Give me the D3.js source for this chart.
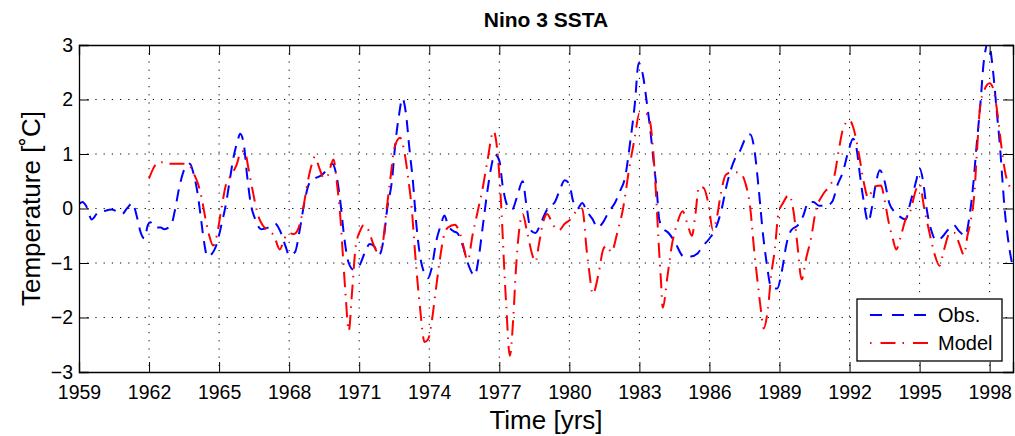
<!DOCTYPE html>
<html>
<head>
<meta charset="utf-8">
<script src="https://cdn.jsdelivr.net/npm/d3@7"></script>
<style>
  body { margin: 0; background: #ffffff; }
  text { font-family: "Liberation Sans", Arial, Helvetica, sans-serif; fill: #000; }
</style>
</head>
<body>
<div id="chart"></div>
<script>
// ----------------------------------------------------------------------------------------------------
// DATA - NINO 3 SSTA
// ----------------------------------------------------------------------------------------------------

var obsYears = [
    1959.0, 1959.15, 1959.3, 1959.55, 1959.8, 1960.05, 1960.4, 1960.6, 1960.85, 1961.05,
    1961.3, 1961.45, 1961.65, 1961.8, 1961.95, 1962.05, 1962.25, 1962.5, 1962.65, 1962.95,
    1963.1, 1963.3, 1963.55, 1963.75, 1963.9, 1964.05, 1964.2, 1964.35, 1964.5, 1964.65,
    1964.9, 1965.1, 1965.3, 1965.45, 1965.6, 1965.8, 1965.9, 1966.05, 1966.2, 1966.35,
    1966.55, 1966.8, 1967.1, 1967.4, 1967.6, 1967.85, 1968.0, 1968.25, 1968.45, 1968.65,
    1968.85, 1969.1, 1969.35, 1969.6, 1969.85, 1970.05, 1970.2, 1970.35, 1970.55, 1970.75,
    1971.0, 1971.25, 1971.45, 1971.65, 1971.85, 1972.05, 1972.2, 1972.4, 1972.55, 1972.7,
    1972.85, 1973.0, 1973.15, 1973.3, 1973.45, 1973.6, 1973.8, 1973.95, 1974.1, 1974.3,
    1974.5, 1974.65, 1974.8, 1975.05, 1975.2, 1975.45, 1975.65, 1975.95, 1976.1, 1976.3,
    1976.5, 1976.65, 1976.8, 1977.0, 1977.15, 1977.35, 1977.55, 1977.75, 1978.0, 1978.15,
    1978.35, 1978.55, 1978.75, 1978.95, 1979.15, 1979.35, 1979.6, 1979.8, 1980.0, 1980.15,
    1980.35, 1980.55, 1980.75, 1981.0, 1981.2, 1981.45, 1981.7, 1981.95, 1982.15, 1982.4,
    1982.6, 1982.8, 1982.97, 1983.15, 1983.3, 1983.45, 1983.6, 1983.75, 1983.85, 1984.0,
    1984.25, 1984.5, 1984.9, 1985.2, 1985.5, 1985.7, 1986.0, 1986.25, 1986.5, 1986.75,
    1987.1, 1987.3, 1987.6, 1987.75, 1987.95, 1988.1, 1988.3, 1988.45, 1988.65, 1988.9,
    1989.1, 1989.3, 1989.5, 1989.8, 1990.0, 1990.25, 1990.45, 1990.7, 1991.0, 1991.25,
    1991.5, 1991.7, 1991.95, 1992.15, 1992.3, 1992.45, 1992.6, 1992.8, 1992.95, 1993.1,
    1993.3, 1993.5, 1993.7, 1993.9, 1994.15, 1994.4, 1994.6, 1994.85, 1995.0, 1995.15,
    1995.3, 1995.5, 1995.7, 1995.9, 1996.2, 1996.45, 1996.7, 1996.95, 1997.15, 1997.3,
    1997.45, 1997.6, 1997.75, 1997.95, 1998.15, 1998.3, 1998.45, 1998.55, 1998.65, 1998.8,
    1999.0
];
var obsValues = [
    0.08, 0.12, 0.05, -0.2, -0.08, -0.05, -0.02, -0.05, -0.1, 0.0,
    0.1, -0.1, -0.45, -0.55, -0.3, -0.25, -0.35, -0.35, -0.38, -0.3,
    -0.05, 0.4, 0.75, 0.82, 0.65, 0.35, -0.1, -0.6, -0.88, -0.85,
    -0.65, -0.3, 0.1, 0.5, 0.9, 1.25, 1.37, 1.2, 0.6, 0.1,
    -0.2, -0.38, -0.35, -0.28, -0.4, -0.7, -0.86, -0.8, -0.4, 0.1,
    0.45, 0.55, 0.6, 0.7, 0.82, 0.55, 0.1, -0.5, -1.0, -1.12,
    -1.05, -0.8, -0.65, -0.7, -0.85, -0.55, 0.0, 0.5, 1.2, 1.7,
    2.02, 1.75, 1.1, 0.5, -0.3, -0.85, -1.2, -1.28, -1.1, -0.6,
    -0.3, -0.13, -0.3, -0.42, -0.45, -0.7, -1.0, -1.23, -0.95, -0.3,
    0.35, 0.75, 1.0, 0.88, 0.4, 0.05, -0.02, 0.2, 0.5, 0.1,
    -0.4, -0.45, -0.3, -0.1, 0.05, 0.1, 0.35, 0.52, 0.45, 0.15,
    0.0, 0.1, -0.05, -0.2, -0.35, -0.25, -0.05, 0.1, 0.3, 0.6,
    1.2, 1.9, 2.67, 2.45, 2.0, 1.5, 0.9, 0.3, -0.2, -0.35,
    -0.45, -0.6, -0.88, -0.88, -0.82, -0.7, -0.55, -0.38, -0.05, 0.45,
    0.92, 1.05, 1.33, 1.36, 1.0, 0.4, -0.5, -1.0, -1.45, -1.47,
    -1.15, -0.65, -0.4, -0.3, -0.15, 0.12, 0.12, 0.05, 0.05, 0.12,
    0.45, 0.65, 1.05, 1.28, 1.1, 0.6, 0.15, -0.25, 0.0, 0.4,
    0.7, 0.5, 0.1, -0.05, -0.15, -0.2, 0.1, 0.5, 0.74, 0.5,
    0.0, -0.4, -0.58, -0.55, -0.4, -0.3, -0.42, -0.5, -0.1, 0.45,
    1.2, 1.9, 2.7, 3.05, 2.5, 1.8, 1.1, 0.5, -0.05, -0.6,
    -1.1
];

var modelYears = [
    1962.0, 1962.2, 1962.4, 1962.6, 1962.9, 1963.2, 1963.5, 1963.7, 1963.9, 1964.1,
    1964.25, 1964.4, 1964.55, 1964.75, 1964.9, 1965.1, 1965.3, 1965.5, 1965.75, 1965.95,
    1966.1, 1966.25, 1966.45, 1966.65, 1966.85, 1967.1, 1967.35, 1967.6, 1967.8, 1968.0,
    1968.2, 1968.45, 1968.6, 1968.8, 1969.0, 1969.1, 1969.3, 1969.5, 1969.65, 1969.9,
    1970.05, 1970.2, 1970.3, 1970.42, 1970.55, 1970.7, 1970.85, 1971.05, 1971.2, 1971.4,
    1971.6, 1971.8, 1972.0, 1972.15, 1972.35, 1972.5, 1972.75, 1972.95, 1973.1, 1973.25,
    1973.4, 1973.6, 1973.8, 1973.95, 1974.1, 1974.25, 1974.45, 1974.6, 1974.8, 1975.1,
    1975.35, 1975.65, 1975.85, 1976.05, 1976.3, 1976.5, 1976.75, 1976.95, 1977.1, 1977.2,
    1977.3, 1977.45, 1977.6, 1977.7, 1977.85, 1978.0, 1978.2, 1978.45, 1978.55, 1978.7,
    1978.85, 1979.05, 1979.3, 1979.55, 1979.8, 1980.05, 1980.3, 1980.55, 1980.75, 1980.85,
    1981.0, 1981.25, 1981.45, 1981.6, 1981.8, 1982.05, 1982.3, 1982.55, 1982.8, 1983.0,
    1983.25, 1983.45, 1983.6, 1983.72, 1983.82, 1983.92, 1984.0, 1984.2, 1984.4, 1984.6,
    1984.85, 1985.1, 1985.25, 1985.4, 1985.55, 1985.75, 1985.95, 1986.15, 1986.3, 1986.5,
    1986.7, 1987.0, 1987.3, 1987.55, 1987.75, 1987.9, 1988.05, 1988.2, 1988.32, 1988.5,
    1988.65, 1988.8, 1988.95, 1989.15, 1989.4, 1989.6, 1989.75, 1989.95, 1990.15, 1990.35,
    1990.55, 1990.85, 1991.15, 1991.35, 1991.55, 1991.75, 1992.0, 1992.15, 1992.4, 1992.6,
    1992.8, 1993.05, 1993.35, 1993.5, 1993.7, 1993.85, 1994.0, 1994.2, 1994.4, 1994.6,
    1994.85, 1995.0, 1995.2, 1995.4, 1995.65, 1995.85, 1996.05, 1996.3, 1996.5, 1996.7,
    1996.9, 1997.05, 1997.2, 1997.35, 1997.45, 1997.6, 1997.75, 1998.0, 1998.15, 1998.3,
    1998.5, 1998.65, 1998.8, 1999.0
];
var modelValues = [
    0.55, 0.75, 0.85, 0.85, 0.82, 0.82, 0.82, 0.8, 0.65, 0.45,
    0.2, -0.15, -0.45, -0.68, -0.5, 0.0, 0.45, 0.6, 0.8, 1.05,
    1.05, 0.75, 0.3, -0.1, -0.3, -0.4, -0.5, -0.75, -0.55, -0.45,
    -0.47, -0.3, 0.0, 0.5, 0.85, 0.95, 0.73, 0.55, 0.6, 0.9,
    0.45, -0.2, -0.85, -1.6, -2.25, -1.5, -0.7, -0.4, -0.3, -0.4,
    -0.65, -0.8, -0.65, -0.1, 0.6, 1.1, 1.3, 1.0, 0.55, 0.0,
    -0.85, -1.8, -2.45, -2.4, -2.1, -1.6, -0.95, -0.55, -0.35, -0.3,
    -0.5, -0.95, -0.5, -0.1, 0.4, 0.9, 1.42, 0.9, -0.1, -1.0,
    -1.8, -2.7, -2.0, -1.2, -0.4, -0.1, -0.45, -0.9, -0.98, -0.65,
    -0.3, -0.1, -0.3, -0.4, -0.28, -0.2, -0.05, 0.0, -0.8, -1.15,
    -1.57, -1.2, -0.75, -0.68, -0.8, -0.45, 0.0, 0.7, 1.3, 1.75,
    1.75, 1.6, 1.0, 0.2, -0.6, -1.3, -1.82, -1.25, -0.65, -0.3,
    -0.05, -0.35, -0.5, -0.1, 0.4, 0.38, 0.1, -0.4, -0.2, 0.3,
    0.62, 0.67, 0.65, 0.45, 0.0, -0.7, -1.3, -1.85, -2.2, -1.85,
    -1.2, -0.75, -0.1, 0.1, 0.25, -0.05, -0.6, -1.3, -0.9, -0.55,
    -0.05, 0.25, 0.42, 0.6, 1.1, 1.5, 1.62, 1.5, 1.0, 0.5,
    0.2, 0.4, 0.42, 0.15, -0.3, -0.55, -0.75, -0.5, -0.2, -0.05,
    0.35, 0.45, 0.0, -0.4, -0.85, -1.05, -0.75, -0.45, -0.45, -0.65,
    -0.85, -0.5, -0.2, 0.3, 1.0, 1.9, 2.15, 2.3, 2.2, 1.85,
    1.15, 0.7, 0.45, 0.35
];

var xTickValues = [1959, 1962, 1965, 1968, 1971, 1974, 1977, 1980, 1983, 1986, 1989, 1992, 1995, 1998];
var yTickValues = [-3, -2, -1, 0, 1, 2, 3];
var seriesNames = ["Obs.", "Model"];

// ----------------------------------------------------------------------------------------------------
// CHART
// ----------------------------------------------------------------------------------------------------

function chartNino_Draw(ele) {
    ele = "#" + ele;

    var w = 1015, h = 436;
    var m = { top: 45, right: 2, bottom: 64, left: 79 };
    var iw = w - m.left - m.right;
    var ih = h - m.top - m.bottom;

    var svg = d3.select(ele).append("svg")
        .attr("width", w)
        .attr("height", h);

    var x = d3.scaleLinear().domain([1959, 1999]).range([0, iw]);
    var y = d3.scaleLinear().domain([-3, 3]).range([ih, 0]);

    var g = svg.append("g").attr("transform", "translate(" + m.left + "," + m.top + ")");

    svg.append("defs").append("clipPath").attr("id", "plotClip")
        .append("rect").attr("width", iw).attr("height", ih);

    // Grid
    g.selectAll(".gx").data(xTickValues.slice(1)).enter().append("line")
        .attr("x1", function(d) { return x(d); })
        .attr("x2", function(d) { return x(d); })
        .attr("y1", 0).attr("y2", ih)
        .attr("stroke", "#000").attr("stroke-width", 1)
        .attr("stroke-dasharray", "1.2,7");
    g.selectAll(".gy").data(yTickValues.slice(1, -1)).enter().append("line")
        .attr("y1", function(d) { return y(d); })
        .attr("y2", function(d) { return y(d); })
        .attr("x1", 0).attr("x2", iw)
        .attr("stroke", "#000").attr("stroke-width", 1)
        .attr("stroke-dasharray", "1.2,7");

    // Lines
    var obs = obsYears.map(function(t, i) { return [t, obsValues[i]]; });
    var model = modelYears.map(function(t, i) { return [t, modelValues[i]]; });

    var line = d3.line()
        .x(function(d) { return x(d[0]); })
        .y(function(d) { return y(d[1]); })
        .curve(d3.curveMonotoneX);

    var lines = g.append("g").attr("clip-path", "url(#plotClip)");
    lines.append("path").datum(obs)
        .attr("d", line)
        .attr("fill", "none")
        .attr("stroke", "#0000ff")
        .attr("stroke-width", 2)
        .attr("stroke-dasharray", "12,8");
    lines.append("path").datum(model)
        .attr("d", line)
        .attr("fill", "none")
        .attr("stroke", "#ff0000")
        .attr("stroke-width", 2)
        .attr("stroke-dasharray", "15,7,1.5,7");

    // Axes (inside ticks, box)
    var axB = d3.axisBottom(x).tickValues(xTickValues).tickSize(-10).tickPadding(13).tickFormat(d3.format("d"));
    var axT = d3.axisTop(x).tickValues(xTickValues).tickSize(-10).tickFormat("");
    var axL = d3.axisLeft(y).tickValues(yTickValues).tickSize(-10).tickPadding(6)
        .tickFormat(function(d) { return d < 0 ? "\u2212" + Math.abs(d) : d; });
    var axR = d3.axisRight(y).tickValues(yTickValues).tickSize(-10).tickFormat("");

    [
        g.append("g").attr("transform", "translate(0," + ih + ")").call(axB),
        g.append("g").call(axT),
        g.append("g").call(axL),
        g.append("g").attr("transform", "translate(" + iw + ",0)").call(axR)
    ].forEach(function(a) {
        a.selectAll("path").attr("stroke", "#000").attr("stroke-width", 1.3);
        a.selectAll("line").attr("stroke", "#000").attr("stroke-width", 1);
        a.selectAll("text").attr("font-size", "19.5px").attr("fill", "#000")
            .attr("font-family", "'Liberation Sans', Arial, sans-serif");
    });

    // Title and labels
    svg.append("text")
        .attr("x", m.left + iw / 2).attr("y", 27)
        .attr("text-anchor", "middle")
        .attr("font-size", "21px").attr("font-weight", "bold")
        .text("Nino 3 SSTA");
    svg.append("text")
        .attr("x", m.left + iw / 2).attr("y", 429)
        .attr("text-anchor", "middle")
        .attr("font-size", "26px")
        .text("Time [yrs]");
    svg.append("text")
        .attr("transform", "translate(40," + (m.top + ih / 2) + ") rotate(-90)")
        .attr("text-anchor", "middle")
        .attr("font-size", "26px")
        .text("Temperature [\u02DAC]");

    // Legend
    var lg = svg.append("g").attr("transform", "translate(857,299)");
    lg.append("rect").attr("width", 145).attr("height", 62)
        .attr("fill", "#fff").attr("stroke", "#000").attr("stroke-width", 1.3);
    var colors = ["#0000ff", "#ff0000"];
    seriesNames.forEach(function(name, i) {
        var yy = 16 + i * 28;
        lg.append("line").attr("x1", 13).attr("x2", 75).attr("y1", yy).attr("y2", yy)
            .attr("stroke", colors[i]).attr("stroke-width", 2)
            .attr("stroke-dasharray", i === 0 ? "12,10" : "1.5,9,15,7");
        lg.append("text").attr("x", 81).attr("y", yy + 7)
            .attr("font-size", "20px").text(name);
    });
}

chartNino_Draw("chart");
</script>
</body>
</html>
